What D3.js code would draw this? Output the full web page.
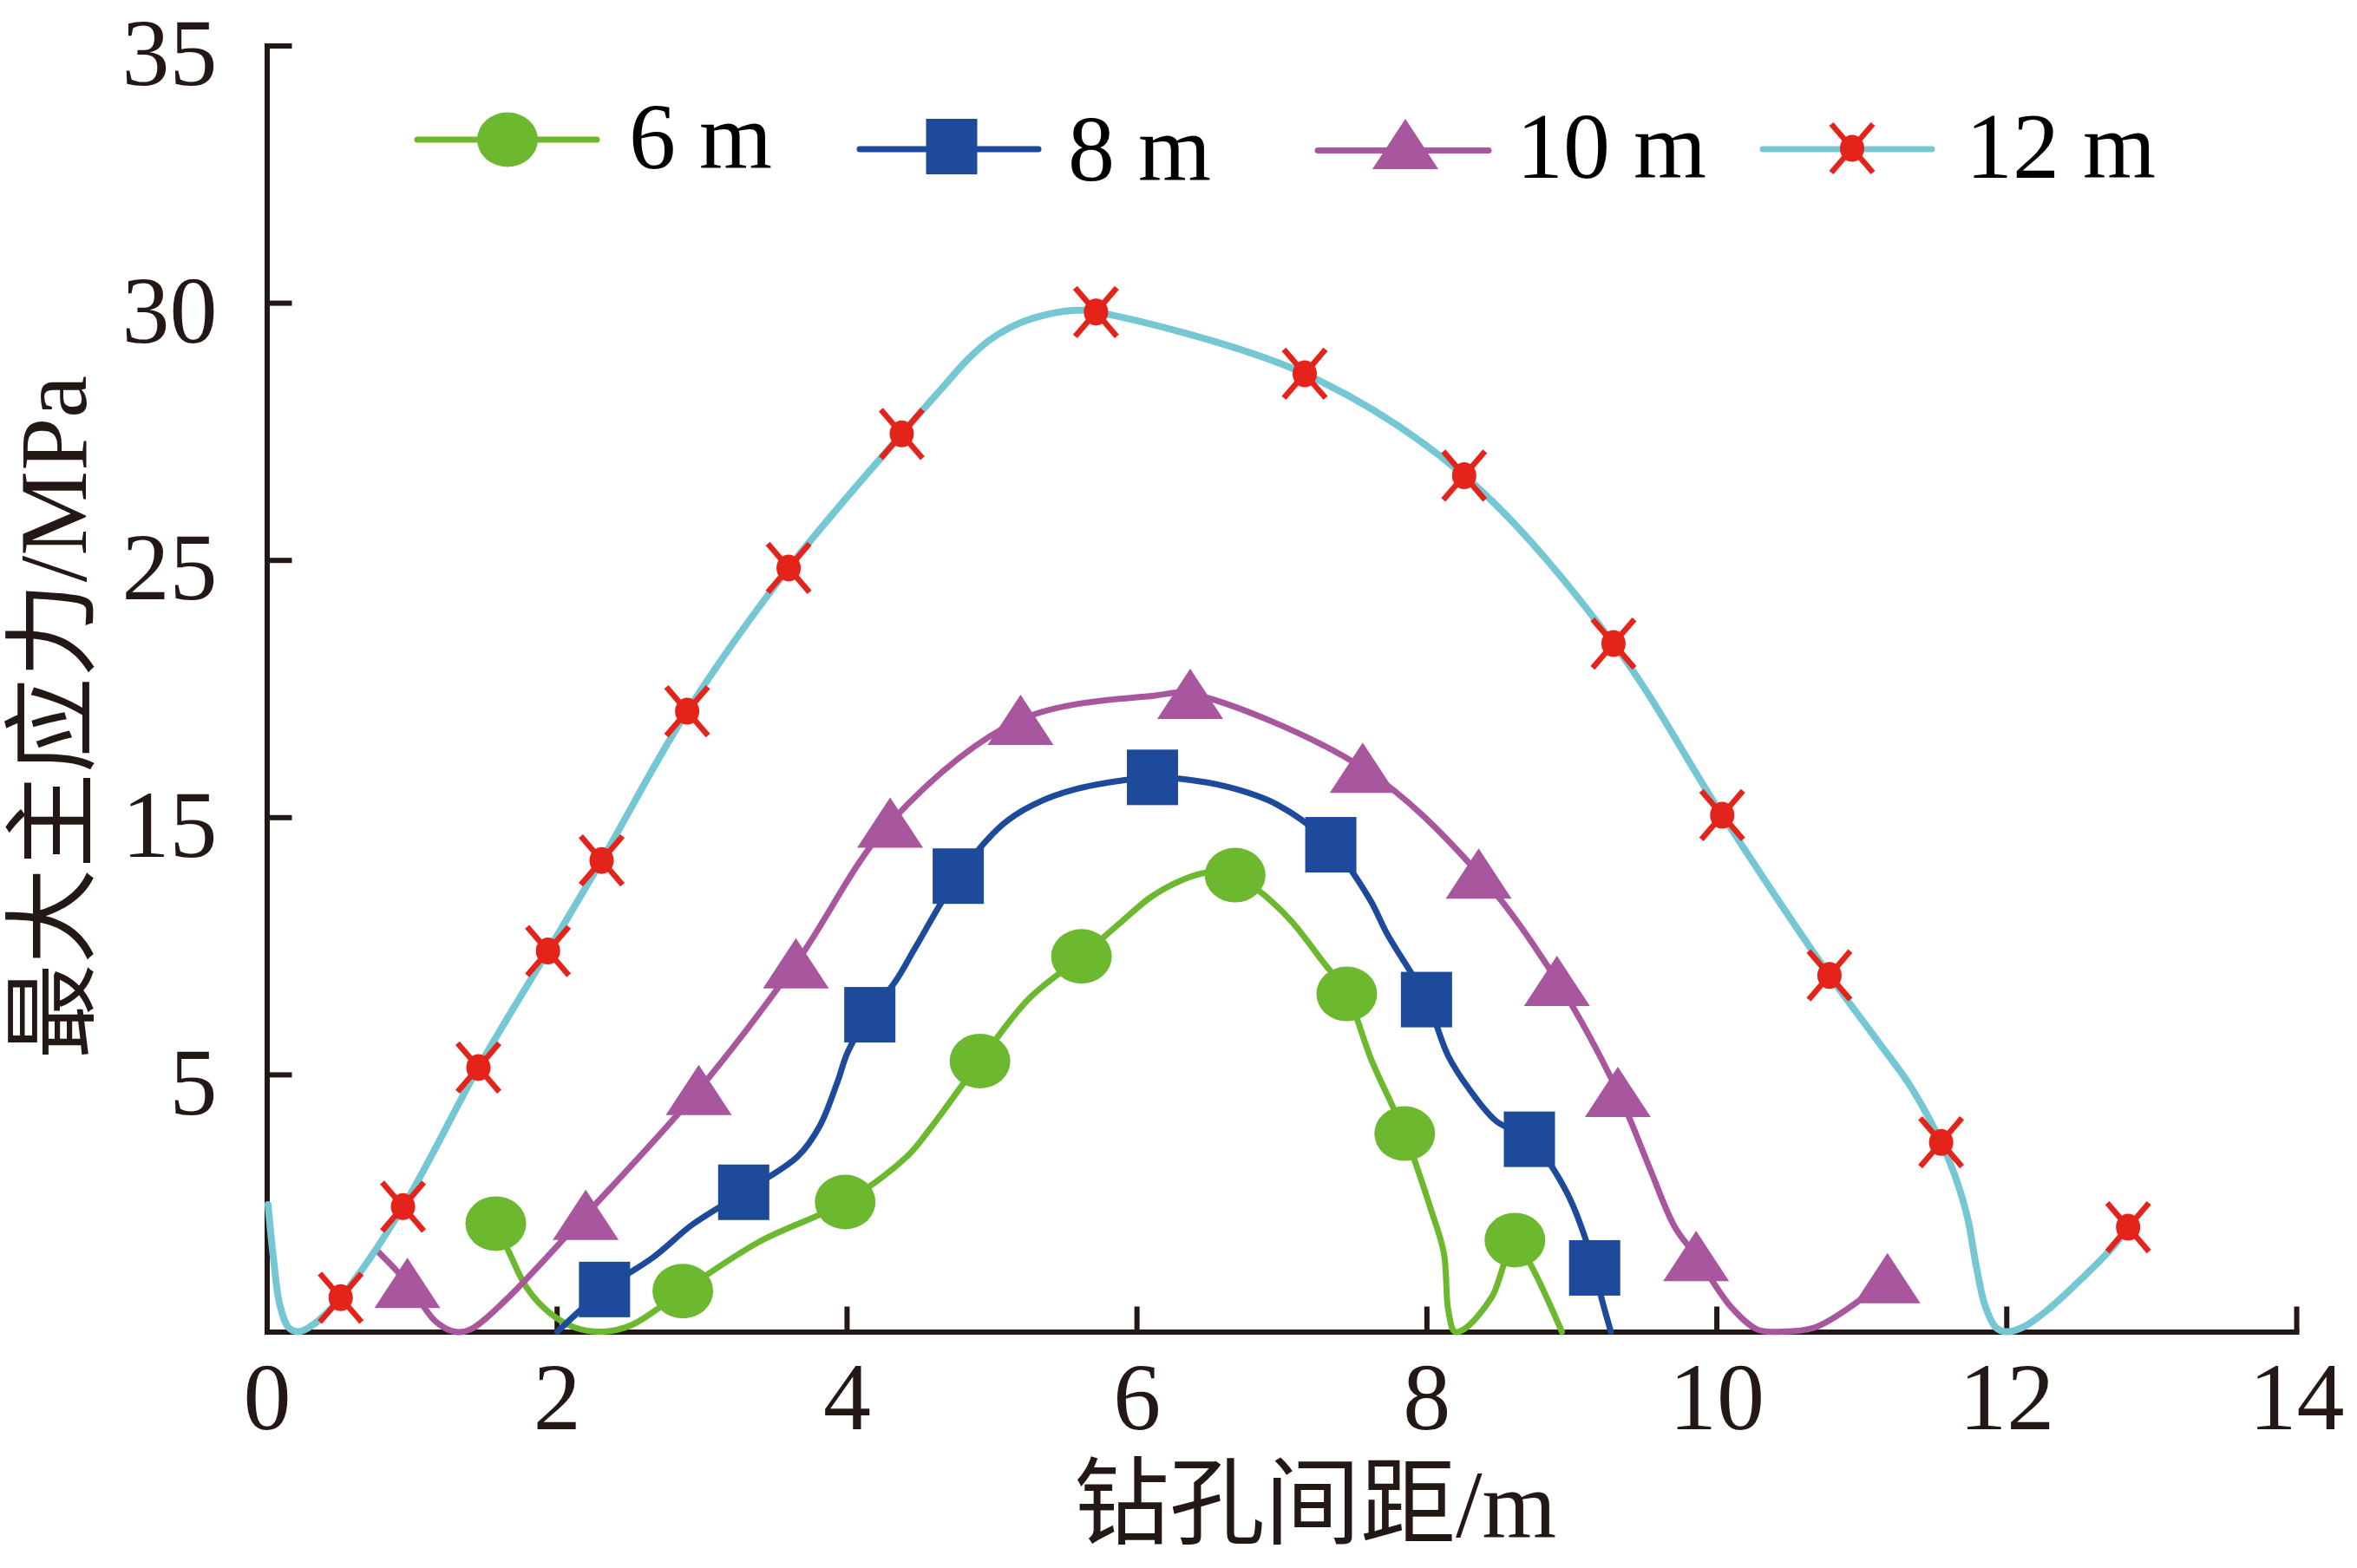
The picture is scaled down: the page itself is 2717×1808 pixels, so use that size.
<!DOCTYPE html>
<html>
<head>
<meta charset="utf-8">
<script src="https://cdn.jsdelivr.net/npm/d3@7"></script>
<style>
html, body { margin: 0; padding: 0; background: #ffffff; }
svg { display: block; }
</style>
</head>
<body>
<svg id="chart" width="2717" height="1808"></svg>
<script>
// ---------------- DATA ----------------
const seriesNames = ["6 m", "8 m", "10 m", "12 m"];

const xTicks = [0, 2, 4, 6, 8, 10, 12, 14];
const xTickLabels = ["0", "2", "4", "6", "8", "10", "12", "14"];
// the y axis labels are evenly spaced on the axis
const yStops = [0, 5, 15, 25, 30, 35];
const yTicks = [5, 15, 25, 30, 35];
const yTickLabels = ["5", "15", "25", "30", "35"];

const xTitle = "钻孔间距/m";
const yTitle = "最大主应力/MPa";

// marker points (x: 钻孔间距 m, y: 最大主应力 MPa)
const markX6 = [1.58, 2.87, 3.99, 4.92, 5.62, 6.68, 7.45, 7.85, 8.61];
const markY6 = [2.10, 0.79, 2.52, 5.52, 9.59, 12.75, 8.13, 3.85, 1.78];

const markX8 = [2.33, 3.29, 4.16, 4.77, 6.11, 7.34, 8.00, 8.71, 9.16];
const markY8 = [0.82, 2.71, 7.32, 12.71, 16.55, 13.93, 7.91, 3.74, 1.24];

const markX10 = [0.97, 2.20, 2.98, 3.65, 4.30, 5.20, 6.37, 7.56, 8.36, 8.90, 9.32, 9.86, 11.18];
const markY10 = [0.95, 2.27, 4.70, 9.32, 14.79, 18.79, 19.80, 16.92, 12.81, 8.64, 4.66, 1.47, 1.04];

const markX12 = [0.51, 0.94, 1.46, 1.94, 2.31, 2.90, 3.60, 4.38, 5.72, 7.16, 8.26, 9.29, 10.04, 10.78, 11.55, 12.84];
const markY12 = [0.66, 2.43, 5.27, 9.80, 13.32, 19.12, 24.69, 27.45, 29.82, 28.62, 26.64, 21.75, 15.08, 8.85, 3.68, 2.03];

// smoothed curve points (includes the marker points)
const lineX6 = [1.58, 1.674, 1.794, 1.945, 2.126, 2.322, 2.518, 2.87, 3.393, 3.99, 4.418, 4.569, 4.92, 5.255, 5.62, 5.889, 6.10, 6.311, 6.49, 6.68, 6.838, 7.065, 7.276, 7.45, 7.622, 7.85, 8.03, 8.12, 8.15, 8.195, 8.26, 8.452, 8.61, 8.723, 8.934];
const lineY6 = [2.10, 1.53, 0.85, 0.38, 0.08, 0.00, 0.13, 0.79, 1.74, 2.52, 3.41, 3.92, 5.52, 7.93, 9.59, 10.9, 11.9, 12.55, 12.85, 12.75, 12.17, 10.98, 9.45, 8.13, 5.54, 3.85, 2.38, 1.53, 0.42, 0.00, 0.05, 0.68, 1.78, 1.28, 0.00];

const lineX8 = [2.005, 2.33, 2.668, 2.94, 3.29, 3.664, 3.815, 3.935, 4.01, 4.16, 4.336, 4.477, 4.77, 5.075, 5.286, 5.587, 6.11, 6.29, 6.643, 6.974, 7.34, 7.607, 7.728, 8.00, 8.149, 8.301, 8.482, 8.71, 8.964, 9.16, 9.205, 9.272];
const lineY8 = [0.00, 0.82, 1.45, 2.09, 2.71, 3.41, 4.00, 4.84, 5.90, 7.32, 8.61, 9.96, 12.71, 14.71, 15.48, 16.10, 16.55, 16.50, 16.16, 15.48, 13.93, 11.83, 10.47, 7.91, 5.73, 4.69, 4.09, 3.74, 2.73, 1.24, 0.68, 0.00];

const lineX10 = [0.769, 0.97, 1.161, 1.297, 1.402, 1.643, 2.20, 2.98, 3.65, 4.30, 5.20, 6.13, 6.37, 7.56, 8.36, 8.90, 9.32, 9.531, 9.712, 9.86, 10.104, 10.285, 10.45, 10.677, 10.918, 11.18];
const lineY10 = [1.55, 0.95, 0.21, 0.00, 0.04, 0.60, 2.27, 4.70, 9.32, 14.79, 18.79, 19.73, 19.80, 16.92, 12.81, 8.64, 4.66, 3.24, 2.04, 1.47, 0.47, 0.04, 0.00, 0.08, 0.47, 1.04];

const lineX12 = [0.009, 0.045, 0.091, 0.151, 0.22, 0.317, 0.51, 0.94, 1.46, 1.94, 2.31, 2.90, 3.60, 4.38, 4.683, 4.833, 4.984, 5.135, 5.286, 5.557, 5.72, 7.16, 8.26, 9.29, 10.04, 10.78, 11.098, 11.339, 11.55, 11.641, 11.732, 11.792, 11.853, 11.928, 12.003, 12.123, 12.305, 12.516, 12.727, 12.84];
const lineY12 = [2.47, 1.45, 0.51, 0.08, 0.00, 0.13, 0.66, 2.43, 5.27, 9.80, 13.32, 19.12, 24.69, 27.45, 28.42, 28.89, 29.27, 29.53, 29.70, 29.85, 29.82, 28.62, 26.64, 21.75, 15.08, 8.85, 6.41, 4.77, 3.68, 3.07, 2.22, 1.28, 0.51, 0.08, 0.00, 0.10, 0.47, 1.02, 1.62, 2.03];

// ---------------- STYLE / LAYOUT ----------------
const colors = ["#6cb82f", "#1e4a9c", "#a8569d", "#76c7d4"];
const markerColors = ["#6cb82f", "#1e4a9c", "#a8569d", "#e4231b"];
const shapes = ["circle", "square", "triangle", "cross"];
const lineWidths = [7, 7, 7, 8];
const ink = "#231815";
const serif = "'Liberation Serif', 'Times New Roman', 'Noto Sans CJK SC', serif";

const series = [
  { name: seriesNames[0], mx: markX6, my: markY6, lx: lineX6, ly: lineY6 },
  { name: seriesNames[1], mx: markX8, my: markY8, lx: lineX8, ly: lineY8 },
  { name: seriesNames[2], mx: markX10, my: markY10, lx: lineX10, ly: lineY10 },
  { name: seriesNames[3], mx: markX12, my: markY12, lx: lineX12, ly: lineY12 }
];

const svg = d3.select("#chart");

const plotLeft = 307.5, plotRight = 2647, plotBottom = 1535.5, plotTop = 52.5;
const x = d3.scaleLinear().domain([0, 14]).range([plotLeft, plotRight]);
const step = (plotBottom - plotTop) / (yStops.length - 1);
const y = d3.scaleLinear().domain(yStops).range(yStops.map((d, i) => plotBottom - i * step));

// ---------------- AXES ----------------
const xAxis = d3.axisBottom(x)
  .tickValues(xTicks)
  .tickFormat((d, i) => xTickLabels[i])
  .tickSizeInner(-29)
  .tickSizeOuter(0)
  .tickPadding(34);

const yAxis = d3.axisLeft(y)
  .tickValues(yTicks)
  .tickFormat((d, i) => yTickLabels[i])
  .tickSizeInner(-29)
  .tickSizeOuter(0)
  .tickPadding(57);

function styleAxis(g) {
  g.select(".domain").attr("stroke", ink).attr("stroke-width", 6).attr("stroke-linecap", "square");
  g.selectAll(".tick line").attr("stroke", ink).attr("stroke-width", 6);
  g.selectAll(".tick text").attr("fill", ink).style("font-family", serif).style("font-size", "110px");
}

const gx = svg.append("g").attr("transform", `translate(0,${plotBottom})`).call(xAxis);
styleAxis(gx);

const gy = svg.append("g").attr("transform", `translate(${plotLeft},0)`).call(yAxis);
styleAxis(gy);
gy.selectAll(".tick text").attr("dy", "0.41em");

// axis titles
svg.append("text")
  .attr("x", 1516).attr("y", 1772)
  .attr("text-anchor", "middle")
  .attr("fill", ink)
  .style("font-family", serif).style("font-size", "110px")
  .text(xTitle);

svg.append("text")
  .attr("transform", "translate(99,827) rotate(-90)")
  .attr("text-anchor", "middle")
  .attr("fill", ink)
  .style("font-family", serif).style("font-size", "110px")
  .text(yTitle);

// ---------------- MARKERS ----------------
function drawMarker(g, shape, color, cx, cy) {
  if (shape === "circle") {
    g.append("ellipse").attr("cx", cx).attr("cy", cy).attr("rx", 35).attr("ry", 31.5).attr("fill", color);
  } else if (shape === "square") {
    g.append("rect").attr("x", cx - 29.5).attr("y", cy - 32).attr("width", 59).attr("height", 64).attr("fill", color);
  } else if (shape === "triangle") {
    g.append("path")
      .attr("d", `M${cx},${cy - 29} L${cx + 38},${cy + 29} L${cx - 38},${cy + 29} Z`)
      .attr("fill", color);
  } else if (shape === "cross") {
    g.append("line").attr("x1", cx - 24).attr("y1", cy - 28).attr("x2", cx + 24).attr("y2", cy + 28)
      .attr("stroke", color).attr("stroke-width", 6.5);
    g.append("line").attr("x1", cx + 24).attr("y1", cy - 28).attr("x2", cx - 24).attr("y2", cy + 28)
      .attr("stroke", color).attr("stroke-width", 6.5);
    g.append("ellipse").attr("cx", cx).attr("cy", cy).attr("rx", 14).attr("ry", 15.5).attr("fill", color);
  }
}

// ---------------- SERIES ----------------
const line = d3.line()
  .x(d => x(d[0]))
  .y(d => y(d[1]))
  .curve(d3.curveCatmullRom.alpha(0.5));

series.forEach((s, si) => {
  const g = svg.append("g").attr("class", "series");
  const pts = s.lx.map((v, i) => [v, s.ly[i]]);
  g.append("path")
    .attr("d", line(pts))
    .attr("fill", "none")
    .attr("stroke", colors[si])
    .attr("stroke-width", lineWidths[si])
    .attr("stroke-linecap", "round")
    .attr("stroke-linejoin", "round");
  s.mx.forEach((v, i) => drawMarker(g, shapes[si], markerColors[si], x(v), y(s.my[i])));
});

// ---------------- LEGEND ----------------
const legendLayout = [
  { x1: 481, x2: 688, ly: 161, mx: 585, my: 161, tx: 725, ty: 194 },
  { x1: 991, x2: 1197, ly: 172, mx: 1097, my: 169, tx: 1231, ty: 208 },
  { x1: 1519, x2: 1716, ly: 173.5, mx: 1620, my: 166, tx: 1748, ty: 205 },
  { x1: 2032, x2: 2227, ly: 172, mx: 2135, my: 171, tx: 2266, ty: 205 }
];

const legend = svg.append("g").attr("class", "legend");
series.forEach((s, si) => {
  const L = legendLayout[si];
  legend.append("line")
    .attr("x1", L.x1).attr("x2", L.x2).attr("y1", L.ly).attr("y2", L.ly)
    .attr("stroke", colors[si]).attr("stroke-width", 7).attr("stroke-linecap", "round");
  drawMarker(legend, shapes[si], markerColors[si], L.mx, L.my);
  legend.append("text")
    .attr("x", L.tx).attr("y", L.ty)
    .attr("fill", "#000")
    .style("font-family", serif).style("font-size", "108px")
    .text(s.name);
});
</script>
</body>
</html>
